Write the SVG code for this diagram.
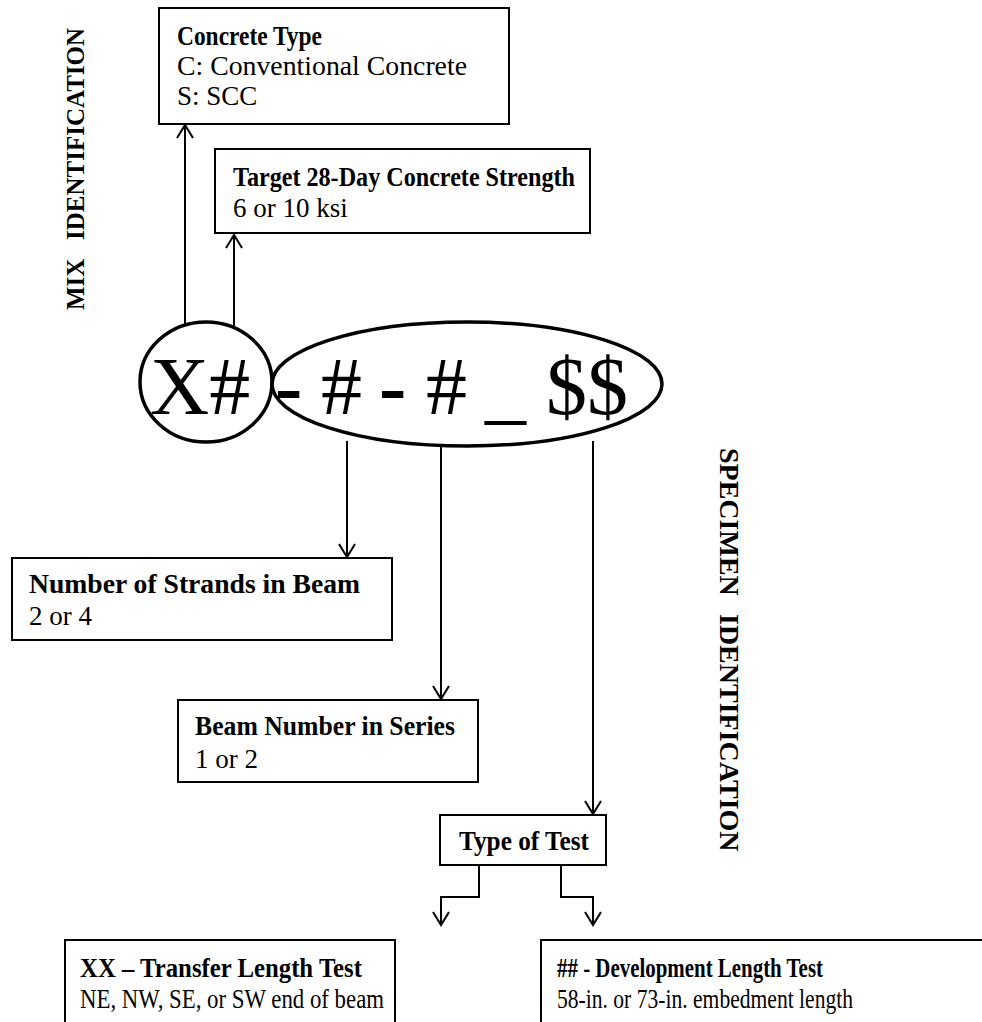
<svg xmlns="http://www.w3.org/2000/svg" width="982" height="1022" viewBox="0 0 982 1022">
<style>
.box{fill:#fff;stroke:#000;stroke-width:2}
.b{font-family:"Liberation Serif","Times New Roman",serif;font-weight:bold;font-size:27px;fill:#000}
.r{font-family:"Liberation Serif","Times New Roman",serif;font-size:27px;fill:#000}
.big{font-family:"Liberation Serif","Times New Roman",serif;font-size:82px;fill:#000}
.bigb{font-family:"Liberation Serif","Times New Roman",serif;font-size:82px;font-weight:bold;fill:#000}
.side{font-family:"Liberation Serif","Times New Roman",serif;font-weight:bold;font-size:25px;fill:#000}
.ell{fill:none;stroke:#000;stroke-width:3.5}
.c{fill:none;stroke:#000;stroke-width:2}
</style>
<defs>
<marker id="ah" markerUnits="userSpaceOnUse" markerWidth="30" markerHeight="30" viewBox="-15 -15 30 30" refX="0" refY="0" orient="auto">
<path d="M-13,-8 L0,0 L-13,8" fill="none" stroke="#000" stroke-width="2"/>
</marker>
</defs>
<rect width="982" height="1022" fill="#fff"/>

<g id="mix-label"><text class="side" transform="translate(84,310) rotate(-90)">MIX<tspan x="70">IDENTIFICATION</tspan></text></g>
<g id="specimen-label"><text class="side" transform="translate(720,448) rotate(90)" style="font-size:28px">SPECIMEN<tspan x="166">IDENTIFICATION</tspan></text></g>

<g id="connectors">
<line class="c" x1="185" y1="325" x2="185" y2="125" marker-end="url(#ah)"/>
<line class="c" x1="234" y1="328" x2="234" y2="235" marker-end="url(#ah)"/>
<line class="c" x1="347" y1="441" x2="347" y2="557" marker-end="url(#ah)"/>
<line class="c" x1="441" y1="447" x2="441" y2="699" marker-end="url(#ah)"/>
<line class="c" x1="593" y1="441" x2="593" y2="814" marker-end="url(#ah)"/>
<polyline class="c" points="479,866 479,897 441,897 441,925" marker-end="url(#ah)"/>
<polyline class="c" points="561,866 561,897 593,897 593,925" marker-end="url(#ah)"/>
</g>

<g id="concrete-type">
<rect class="box" x="159" y="8" width="350" height="116"/>
<text class="b" x="177" y="45" textLength="145" lengthAdjust="spacingAndGlyphs">Concrete Type</text>
<text class="r" x="177" y="75" textLength="290" lengthAdjust="spacingAndGlyphs">C: Conventional Concrete</text>
<text class="r" x="177" y="105">S: SCC</text>
</g>

<g id="target-strength">
<rect class="box" x="215" y="149" width="375" height="84"/>
<text class="b" x="233" y="186" textLength="342" lengthAdjust="spacingAndGlyphs">Target 28-Day Concrete Strength</text>
<text class="r" x="233" y="217">6 or 10 ksi</text>
</g>

<g id="mix-code">
<ellipse class="ell" cx="206" cy="382" rx="66" ry="60"/>
<text class="big" x="150" y="414">X#</text>
</g>

<g id="specimen-code">
<ellipse class="ell" cx="467" cy="384" rx="195" ry="62"/>
<text class="bigb" x="275" y="414">-</text>
<text class="big" x="321" y="414">#</text>
<text class="bigb" x="379" y="414">-</text>
<text class="big" x="426" y="414">#</text>
<text class="big" x="485" y="414">_</text>
<text class="big" x="546" y="414">$$</text>
</g>

<g id="strands">
<rect class="box" x="12" y="558" width="380" height="82"/>
<text class="b" x="29" y="593" textLength="331" lengthAdjust="spacingAndGlyphs">Number of Strands in Beam</text>
<text class="r" x="29" y="625">2 or 4</text>
</g>

<g id="beam-number">
<rect class="box" x="178" y="700" width="300" height="82"/>
<text class="b" x="195" y="735" textLength="260" lengthAdjust="spacingAndGlyphs">Beam Number in Series</text>
<text class="r" x="195" y="768">1 or 2</text>
</g>

<g id="type-of-test">
<rect class="box" x="440" y="815" width="166" height="50"/>
<text class="b" x="459" y="850" textLength="130" lengthAdjust="spacingAndGlyphs">Type of Test</text>
</g>

<g id="transfer">
<rect class="box" x="65" y="940" width="330" height="100"/>
<text class="b" x="80" y="977" textLength="282" lengthAdjust="spacingAndGlyphs">XX – Transfer Length Test</text>
<text class="r" x="80" y="1008" textLength="304" lengthAdjust="spacingAndGlyphs">NE, NW, SE, or SW end of beam</text>
</g>

<g id="development">
<rect class="box" x="541" y="940" width="460" height="100"/>
<text class="b" x="557" y="977" textLength="266" lengthAdjust="spacingAndGlyphs">## - Development Length Test</text>
<text class="r" x="557" y="1008" textLength="296" lengthAdjust="spacingAndGlyphs">58-in. or 73-in. embedment length</text>
</g>
</svg>
